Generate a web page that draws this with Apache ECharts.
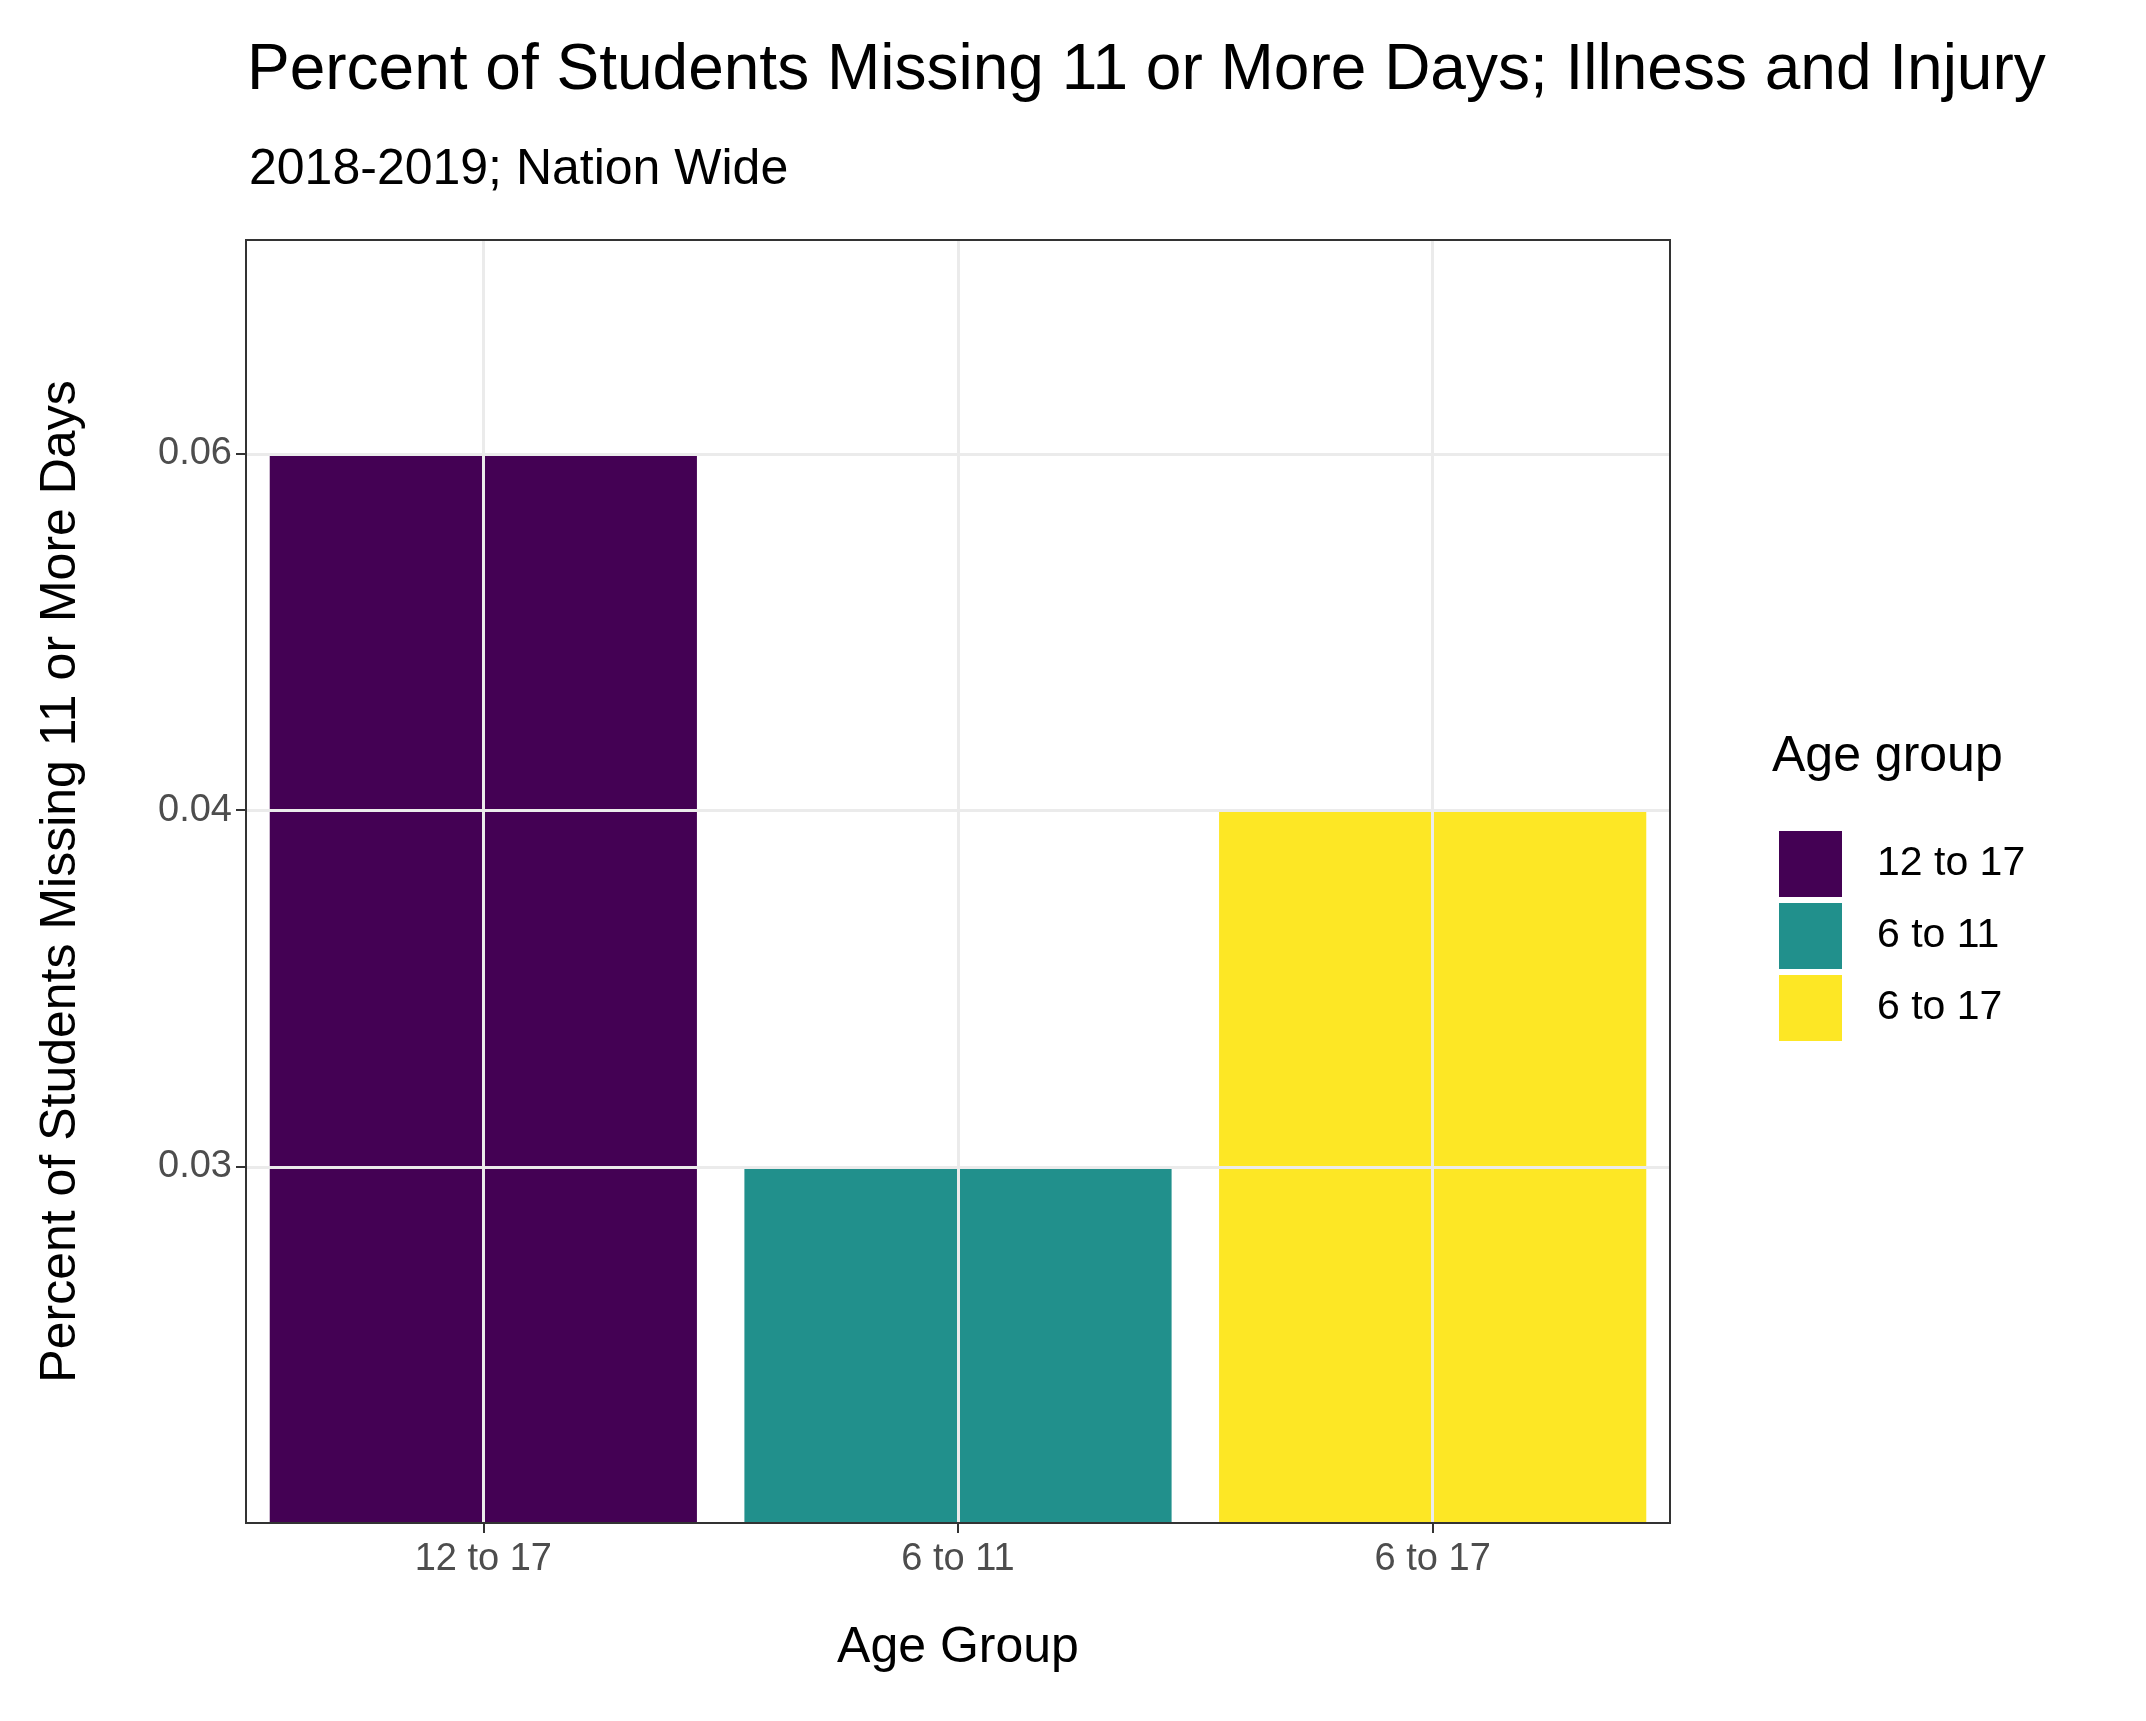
<!DOCTYPE html>
<html><head><meta charset="utf-8">
<script src="https://cdn.jsdelivr.net/npm/echarts@6/dist/echarts.min.js"></script>
<style>html,body{margin:0;background:#fff}#c{width:2146px;height:1721px}</style>
</head><body><div id="c"></div>
<script>
// data
var categories = ['12 to 17', '6 to 11', '6 to 17'];
var values = [0.06, 0.03, 0.04];
var colors = ['#440154', '#21908C', '#FDE725'];
var tickValues = [0.03, 0.04, 0.06];

// the y axis is on a reciprocal scale: position = BASE - 1/value
var BASE = 1 / 0.024;
function toPos(v) { return BASE - 1 / v; }
function fromPos(p) { return 1 / (BASE - p); }
var tickPos = tickValues.map(toPos);

var font = 'Liberation Sans, Arial, sans-serif';
var myChart = echarts.init(document.getElementById('c'));

var series = categories.map(function (c, i) {
    var d = categories.map(function (cc, j) { return j === i ? toPos(values[i]) : '-'; });
    return {
        name: c, type: 'bar', stack: 'all', data: d, z: 3,
        barCategoryGap: '10%',
        itemStyle: { color: colors[i] }
    };
});
// vertical grid lines at category centres
series.push({
    type: 'line', data: [], z: 1, silent: true,
    markLine: {
        silent: true, symbol: 'none', label: { show: false },
        lineStyle: { color: '#ebebeb', width: 3, type: 'solid' },
        data: categories.map(function (c) { return { xAxis: c }; })
    }
});

var L = 246, R = 1670, T = 240, B = 1523;
var option = {
    backgroundColor: '#fff',
    animation: false,
    textStyle: { fontFamily: font },
    title: [{
        text: 'Percent of Students Missing 11 or More Days; Illness and Injury',
        left: 242, top: 34,
        textStyle: { fontFamily: font, fontSize: 64, fontWeight: 'normal', color: '#000' }
    }, {
        text: '2018-2019; Nation Wide',
        left: 244, top: 140,
        textStyle: { fontFamily: font, fontSize: 50, fontWeight: 'normal', color: '#000' }
    }],
    grid: { left: L, right: 2146 - R, top: T, bottom: 1721 - B },
    legend: {
        orient: 'vertical', left: 1774, top: 826,
        itemWidth: 63, itemHeight: 66, itemGap: 6,
        icon: 'rect',
        data: categories,
        textStyle: { fontFamily: font, fontSize: 41, color: '#000', padding: [0, 0, 0, 30] }
    },
    graphic: [{
        type: 'text', left: 1772, top: 732,
        style: { text: 'Age group', font: '50px ' + font, fill: '#000' }
    }, {
        type: 'rect', z: 100, silent: true,
        shape: { x: L, y: T, width: R - L, height: B - T },
        style: { fill: 'none', stroke: '#333', lineWidth: 2 }
    }],
    xAxis: {
        type: 'category', data: categories,
        name: 'Age Group', nameLocation: 'middle', nameGap: 100,
        nameTextStyle: { fontFamily: font, fontSize: 50, color: '#000' },
        axisLine: { show: false },
        axisTick: { show: true, alignWithLabel: true, length: 10, lineStyle: { color: '#333', width: 2 } },
        axisLabel: { fontFamily: font, fontSize: 38, color: '#4d4d4d', margin: 18 },
        splitLine: { show: false }
    },
    yAxis: {
        type: 'value', min: 0, max: 30,
        name: 'Percent of Students Missing 11 or More Days', nameLocation: 'middle', nameGap: 160,
        nameTextStyle: { fontFamily: font, fontSize: 50, color: '#000' },
        axisLine: { show: false },
        axisTick: { show: true, length: 10, customValues: tickPos, lineStyle: { color: '#333', width: 2 } },
        axisLabel: {
            fontFamily: font, fontSize: 38, color: '#4d4d4d', margin: 14,
            customValues: tickPos,
            formatter: function (p) { return fromPos(p).toFixed(2); }
        },
        splitLine: { show: false }
    },
    series: series
};
// horizontal grid lines at the labelled ticks
series[series.length - 1].markLine.data = series[series.length - 1].markLine.data.concat(
    tickPos.map(function (p) { return { yAxis: p }; })
);
myChart.setOption(option);
</script>
</body></html>
